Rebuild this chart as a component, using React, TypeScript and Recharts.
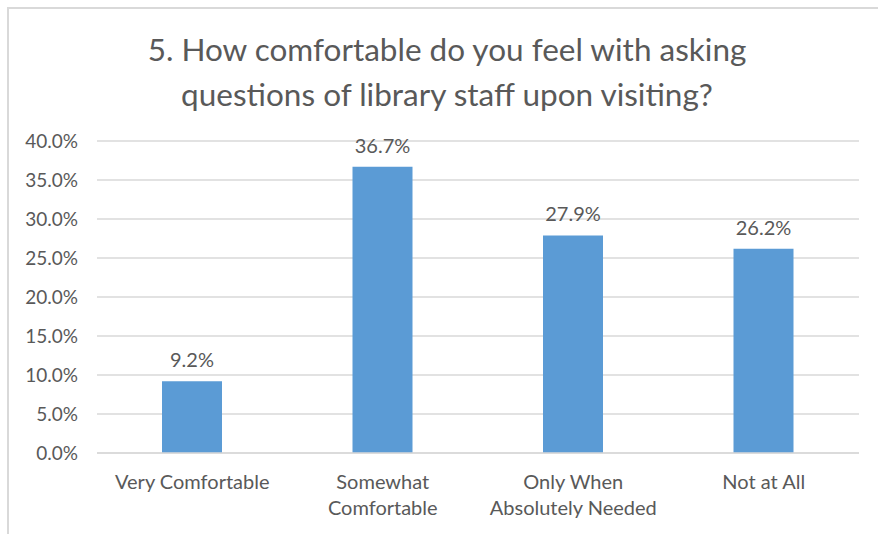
import { Bar, BarChart, CartesianGrid, LabelList, XAxis, YAxis } from 'recharts';

const categories = ['Very Comfortable', 'Somewhat\nComfortable', 'Only When\nAbsolutely Needed', 'Not at All'];
const shares = [9.2, 36.7, 27.9, 26.2];
const yTicks = [0, 5, 10, 15, 20, 25, 30, 35, 40];
const titleLines = ['5. How comfortable do you feel with asking', 'questions of library staff upon visiting?'];

const FONT = 'Lato, "Open Sans", sans-serif';
const TEXT = '#595959';
const GRID = '#D9D9D9';

const chartData = categories.map((name, i) => ({ name, value: shares[i] }));

function CategoryTick({ x, y, payload }: any): JSX.Element {
  const lines = String(payload.value).split('\n');
  return (
    <text x={x} y={y} textAnchor='middle' fill={TEXT} fontSize={20} fontFamily={FONT}>
      {lines.map((line, i) => (
        <tspan key={i} x={x} dy={i === 0 ? 28 : 26}>
          {line}
        </tspan>
      ))}
    </text>
  );
}

export default function App(): JSX.Element {
  return (
    <div style={{ position: 'absolute', left: 0, top: 0, width: 878, height: 534, background: '#fff' }}>
      <div
        style={{
          position: 'absolute',
          left: 7,
          top: 7,
          right: 0,
          bottom: 0,
          borderTop: `2px solid ${GRID}`,
          borderLeft: `2px solid ${GRID}`
        }}
      />
      <div
        style={{
          position: 'absolute',
          left: 0,
          top: 27,
          width: 894,
          textAlign: 'center',
          fontFamily: FONT,
          fontSize: 31.5,
          lineHeight: '45px',
          color: TEXT
        }}
      >
        {titleLines.map(line => (
          <div key={line}>{line}</div>
        ))}
      </div>
      <BarChart
        width={878}
        height={534}
        data={chartData}
        margin={{ top: 141, right: 19, bottom: 51, left: 0 }}
        style={{ position: 'absolute', left: 0, top: 0 }}
      >
        <CartesianGrid vertical={false} stroke={GRID} strokeWidth={1.5} />
        <YAxis
          width={97}
          domain={[0, 40]}
          ticks={yTicks}
          interval={0}
          axisLine={false}
          tickLine={false}
          tickSize={0}
          tickMargin={19}
          tickFormatter={(t: number) => `${t.toFixed(1)}%`}
          tick={{ fill: TEXT, fontSize: 19, fontFamily: FONT }}
        />
        <XAxis
          dataKey='name'
          height={30}
          axisLine={{ stroke: GRID, strokeWidth: 1.5 }}
          tickLine={false}
          tick={<CategoryTick />}
          interval={0}
        />
        <Bar dataKey='value' fill='#5B9BD5' barSize={60} isAnimationActive={false}>
          <LabelList
            dataKey='value'
            position='top'
            offset={14}
            formatter={(v: number) => `${v.toFixed(1)}%`}
            fill={TEXT}
            fontSize={20}
            fontFamily={FONT}
          />
        </Bar>
      </BarChart>
    </div>
  );
}
